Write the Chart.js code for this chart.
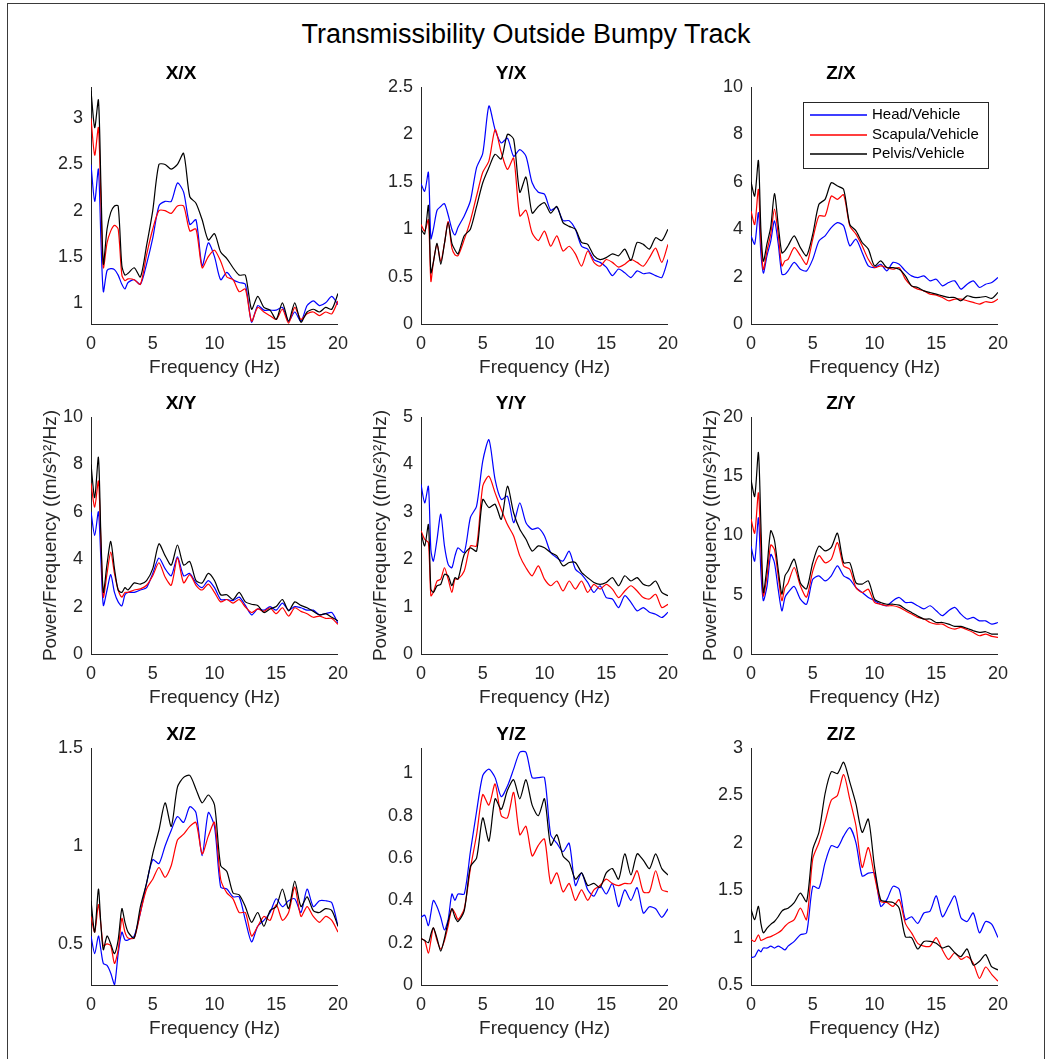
<!DOCTYPE html>
<html>
<head>
<meta charset="utf-8">
<title>Transmissibility Outside Bumpy Track</title>
<script src="https://cdn.jsdelivr.net/npm/chart.js@4.4.1/dist/chart.umd.min.js"></script>
<style>
  html, body { margin: 0; padding: 0; background: #fff; }
  #figure { position: relative; width: 1052px; height: 1059px; overflow: hidden; background: #fff; }
  #frame { position: absolute; left: 7px; top: 3px; width: 1036px; height: 1070px; border: 1px solid #3a3a3a; }
  #suptitle { position: absolute; left: 0; top: 19px; width: 1052px; text-align: center;
              font: 27px/30px "Liberation Sans", Arial, sans-serif; color: #000; }
  canvas { position: absolute; }
</style>
</head>
<body>
<div id="figure">
  <div id="frame"></div>
  <div id="suptitle">Transmissibility Outside Bumpy Track</div>
</div>
<script>
const FONT = '"Liberation Sans", Arial, sans-serif';
const AXIS = '#262626';

// frequency grid shared by every curve (Hz)
const freq = [0, 0.3, 0.6, 0.8, 1, 1.3, 1.6, 1.9, 2.2, 2.5, 2.75, 3, 3.5, 4, 4.5, 5, 5.5, 6, 6.5, 7, 7.5, 8, 8.5, 9, 9.5, 10,
  10.5, 11, 11.5, 12, 12.5, 13, 13.5, 14, 14.5, 15, 15.5, 16, 16.5, 17, 17.5, 18, 18.5, 19, 19.5, 20];
const xTicks = [0, 5, 10, 15, 20];

const seriesNames = ['Head/Vehicle', 'Scapula/Vehicle', 'Pelvis/Vehicle'];
const seriesColors = ['#0000ff', '#ff0000', '#000000'];

// X/X
const xxHead = [2.5, 2.1, 2.45, 1.7, 1.12, 1.35, 1.37, 1.36, 1.3, 1.2, 1.15, 1.22, 1.25, 1.2, 1.42, 1.7, 2.05, 2.1, 2.1, 2.3, 2.2, 1.85, 1.9, 1.4, 1.65, 1.5, 1.25, 1.33, 1.25, 1.22, 1.2, 0.79, 0.97, 0.92, 0.92, 0.92, 0.95, 0.8, 0.9, 0.8, 0.97, 1.02, 0.97, 1.0, 1.07, 0.98];
const xxScapula = [3.0, 2.6, 2.9, 2.1, 1.38, 1.65, 1.78, 1.84, 1.8, 1.3, 1.24, 1.26, 1.25, 1.2, 1.52, 1.8, 2.0, 2.0, 1.97, 2.05, 2.05, 1.78, 1.8, 1.38, 1.5, 1.57, 1.45, 1.28, 1.25, 1.12, 1.15, 0.8, 0.95, 0.9, 0.86, 0.82, 0.93, 0.78, 0.95, 0.82, 0.88, 0.9, 0.86, 0.9, 0.88, 1.02];
const xxPelvis = [3.3, 2.9, 3.2, 2.3, 1.42, 1.8, 1.98, 2.05, 2.05, 1.4, 1.3, 1.32, 1.38, 1.28, 1.62, 2.0, 2.5, 2.5, 2.45, 2.5, 2.62, 2.15, 2.08, 1.9, 1.68, 1.75, 1.55, 1.48, 1.38, 1.3, 1.3, 0.93, 1.07, 0.95, 0.92, 0.82, 1.0, 0.8, 1.0, 0.79, 0.9, 0.93, 0.9, 0.95, 0.93, 1.1];

// Y/X
const yxHead = [1.48, 1.4, 1.6, 0.9, 1.0, 1.2, 1.24, 1.27, 1.15, 1.0, 0.94, 1.02, 1.14, 1.3, 1.65, 1.8, 2.3, 2.05, 1.91, 1.96, 1.77, 1.84, 1.77, 1.49, 1.39, 1.37, 1.2, 1.23, 1.09, 1.09, 1.0, 0.82, 0.79, 0.68, 0.65, 0.6, 0.51, 0.58, 0.54, 0.49, 0.56, 0.53, 0.54, 0.51, 0.49, 0.68];
const yxScapula = [1.05, 0.98, 1.1, 0.45, 0.65, 0.84, 0.66, 0.85, 1.08, 0.8, 0.73, 0.72, 0.89, 1.09, 1.35, 1.6, 1.72, 2.05, 1.81, 1.63, 1.75, 1.14, 1.2, 0.96, 0.88, 0.98, 0.82, 0.93, 0.77, 0.82, 0.74, 0.61, 0.77, 0.65, 0.61, 0.68, 0.65, 0.6, 0.63, 0.68, 0.65, 0.61, 0.7, 0.8, 0.65, 0.84];
const yxPelvis = [1.0, 0.95, 1.25, 0.54, 0.65, 0.85, 0.63, 0.85, 1.07, 0.85, 0.78, 0.74, 0.93, 1.0, 1.24, 1.49, 1.65, 1.79, 1.74, 2.0, 1.95, 1.39, 1.55, 1.17, 1.24, 1.28, 1.17, 1.24, 1.07, 1.03, 1.0, 0.86, 0.84, 0.72, 0.68, 0.7, 0.74, 0.72, 0.79, 0.67, 0.86, 0.84, 0.79, 0.91, 0.88, 1.0];

// Z/X
const zxHead = [3.72, 3.37, 4.7, 3.0, 2.15, 2.9, 3.5, 4.35, 3.4, 2.1, 2.1, 2.24, 2.6, 2.31, 2.24, 2.73, 3.5, 3.72, 4.07, 4.28, 4.14, 3.3, 3.58, 3.02, 2.45, 2.38, 2.52, 2.24, 2.6, 2.52, 2.24, 2.03, 1.96, 2.03, 1.82, 1.89, 1.61, 1.75, 1.82, 1.47, 1.68, 1.82, 1.54, 1.68, 1.75, 1.96];
const zxScapula = [4.77, 4.2, 5.68, 3.5, 2.3, 3.1, 3.8, 4.85, 3.8, 2.45, 2.66, 2.73, 3.22, 2.88, 2.52, 3.58, 4.56, 4.56, 5.4, 5.26, 5.45, 4.14, 3.79, 3.3, 2.73, 2.38, 2.45, 2.38, 2.31, 2.38, 1.89, 1.61, 1.47, 1.4, 1.26, 1.22, 1.12, 0.98, 1.05, 1.05, 0.98, 0.91, 0.84, 0.94, 0.91, 1.05];
const zxPelvis = [6.0, 5.4, 6.9, 4.0, 2.65, 3.4, 4.1, 5.5, 4.2, 3.0, 3.1, 3.3, 3.72, 3.22, 2.88, 3.79, 5.05, 5.26, 5.96, 5.82, 5.68, 4.2, 3.93, 3.44, 3.16, 2.45, 2.66, 2.38, 2.38, 2.31, 2.03, 1.61, 1.54, 1.4, 1.33, 1.26, 1.19, 1.12, 1.12, 0.98, 1.19, 1.12, 1.12, 1.16, 1.08, 1.33];

// X/Y
const xyHead = [6.0, 5.0, 6.0, 4.0, 2.05, 2.7, 3.35, 2.6, 2.2, 2.03, 2.5, 2.6, 2.6, 2.7, 2.8, 3.4, 4.05, 3.6, 3.3, 4.1, 3.3, 3.4, 3.0, 2.8, 3.1, 2.8, 2.3, 2.3, 2.25, 2.4, 2.05, 1.65, 1.9, 1.85, 2.0, 1.85, 2.15, 1.85, 2.0, 1.95, 1.85, 1.85, 1.65, 1.7, 1.75, 1.3];
const xyScapula = [7.2, 6.2, 7.3, 4.8, 2.4, 3.4, 4.3, 3.4, 2.7, 2.4, 2.6, 2.6, 2.7, 2.75, 2.9, 3.3, 3.85, 3.25, 2.9, 4.05, 3.0, 3.35, 2.9, 2.7, 2.95, 2.6, 2.2, 2.3, 2.15, 2.3, 1.98, 1.75, 1.9, 1.8, 1.95, 1.7, 1.95, 1.6, 1.95, 1.8, 1.7, 1.55, 1.6, 1.5, 1.5, 1.25];
const xyPelvis = [8.0, 6.6, 8.3, 5.0, 2.6, 3.8, 4.75, 3.6, 2.7, 2.6, 2.8, 2.7, 3.0, 2.95, 3.1, 3.6, 4.65, 4.15, 3.75, 4.6, 3.75, 3.9, 3.1, 3.0, 3.4, 3.1, 2.5, 2.5, 2.3, 2.6, 2.2, 2.1, 2.05, 1.75, 1.9, 2.0, 2.3, 1.82, 2.2, 2.05, 1.95, 1.8, 1.65, 1.7, 1.55, 1.4];

// Y/Y
const yyHead = [3.58, 3.19, 3.54, 2.2, 1.96, 2.42, 2.95, 2.28, 1.89, 1.82, 2.07, 2.24, 2.14, 2.88, 3.12, 4.07, 4.52, 3.68, 3.26, 3.33, 2.77, 3.19, 2.77, 2.63, 2.66, 2.49, 2.14, 2.03, 1.96, 2.17, 1.79, 1.68, 1.51, 1.3, 1.44, 1.19, 1.16, 0.98, 1.23, 1.09, 0.91, 0.98, 0.88, 0.84, 0.77, 0.88];
const yyScapula = [2.6, 2.42, 2.35, 1.23, 1.3, 1.54, 1.58, 1.82, 1.58, 1.3, 1.58, 1.58, 1.75, 2.28, 2.28, 3.54, 3.75, 3.4, 3.05, 2.73, 2.49, 2.07, 1.82, 1.65, 1.86, 1.58, 1.44, 1.54, 1.33, 1.54, 1.37, 1.54, 1.3, 1.47, 1.37, 1.47, 1.37, 1.19, 1.33, 1.44, 1.33, 1.19, 1.16, 1.26, 0.98, 1.05];
const yyPelvis = [2.56, 2.28, 2.73, 1.37, 1.3, 1.44, 1.47, 1.68, 1.65, 1.44, 1.61, 1.58, 2.1, 2.24, 2.17, 3.26, 3.09, 3.16, 2.84, 3.54, 2.98, 2.63, 2.42, 2.17, 2.28, 2.24, 2.14, 2.07, 1.86, 1.93, 1.93, 1.72, 1.61, 1.51, 1.47, 1.51, 1.61, 1.44, 1.65, 1.54, 1.61, 1.47, 1.44, 1.54, 1.3, 1.23];

// Z/Y
const zyHead = [9.1, 7.85, 11.5, 7.0, 4.5, 5.75, 8.4, 7.7, 5.47, 3.65, 4.77, 5.19, 5.7, 4.63, 4.2, 6.3, 6.6, 6.17, 6.6, 7.43, 6.6, 6.3, 5.6, 5.19, 4.77, 4.5, 4.2, 4.07, 4.5, 4.77, 4.35, 4.35, 4.07, 3.8, 4.07, 3.65, 3.23, 3.65, 3.93, 3.37, 2.95, 3.09, 2.8, 2.8, 2.52, 2.66];
const zyScapula = [11.4, 10.2, 13.6, 9.0, 4.9, 6.6, 9.2, 8.8, 6.6, 4.5, 5.6, 6.0, 7.3, 5.75, 4.8, 7.0, 8.3, 7.7, 8.0, 9.4, 7.43, 7.15, 5.6, 5.19, 5.47, 4.35, 4.2, 4.07, 4.07, 3.93, 3.65, 3.37, 3.09, 2.95, 2.66, 2.52, 2.52, 2.24, 2.1, 2.24, 2.05, 1.82, 1.54, 1.68, 1.49, 1.4];
const zyPelvis = [14.7, 13.3, 17.0, 11.0, 5.2, 7.4, 10.4, 9.6, 7.15, 5.05, 6.6, 7.0, 8.0, 6.0, 5.5, 7.7, 9.1, 8.7, 9.0, 10.2, 7.7, 7.7, 6.0, 5.9, 6.17, 4.63, 4.35, 4.2, 4.2, 4.12, 3.8, 3.5, 3.2, 2.95, 2.95, 2.66, 2.66, 2.52, 2.33, 2.33, 2.16, 1.96, 1.82, 1.88, 1.68, 1.68];

// X/Z
const xzHead = [0.54, 0.45, 0.54, 0.47, 0.4, 0.39, 0.35, 0.29, 0.45, 0.56, 0.52, 0.52, 0.54, 0.66, 0.81, 0.93, 0.91, 1.0, 1.08, 1.15, 1.12, 1.2, 1.17, 0.95, 1.17, 1.1, 0.79, 0.78, 0.74, 0.74, 0.62, 0.51, 0.59, 0.62, 0.66, 0.73, 0.69, 0.72, 0.73, 0.66, 0.78, 0.69, 0.72, 0.72, 0.71, 0.59];
const xzScapula = [0.64, 0.56, 0.7, 0.6, 0.49, 0.5, 0.49, 0.4, 0.47, 0.63, 0.56, 0.53, 0.53, 0.66, 0.78, 0.83, 0.89, 0.84, 0.9, 1.03, 1.06, 1.1, 1.12, 0.96, 1.05, 1.12, 0.83, 0.76, 0.73, 0.66, 0.66, 0.54, 0.59, 0.64, 0.62, 0.7, 0.62, 0.66, 0.79, 0.64, 0.69, 0.64, 0.61, 0.64, 0.62, 0.56];
const xzPelvis = [0.72, 0.56, 0.78, 0.6, 0.47, 0.54, 0.5, 0.45, 0.52, 0.68, 0.61, 0.56, 0.53, 0.69, 0.81, 0.96, 1.08, 1.22, 1.1, 1.3, 1.35, 1.36, 1.29, 1.22, 1.26, 1.21, 0.9, 0.87, 0.76, 0.75, 0.69, 0.61, 0.66, 0.59, 0.67, 0.69, 0.78, 0.68, 0.82, 0.69, 0.74, 0.67, 0.66, 0.68, 0.67, 0.59];

// Y/Z
const yzHead = [0.32, 0.33, 0.28, 0.34, 0.4, 0.37, 0.32, 0.26, 0.31, 0.43, 0.4, 0.43, 0.43, 0.63, 0.82, 0.99, 1.02, 0.98, 0.89, 0.94, 1.02, 1.1, 1.1, 0.98, 0.98, 0.98, 0.71, 0.67, 0.63, 0.67, 0.47, 0.53, 0.45, 0.42, 0.47, 0.43, 0.48, 0.37, 0.45, 0.4, 0.46, 0.34, 0.37, 0.36, 0.32, 0.36];
const yzScapula = [0.22, 0.21, 0.15, 0.21, 0.27, 0.21, 0.17, 0.21, 0.28, 0.36, 0.34, 0.31, 0.36, 0.55, 0.71, 0.9, 0.85, 0.95, 0.8, 0.79, 0.91, 0.71, 0.75, 0.61, 0.66, 0.69, 0.48, 0.53, 0.44, 0.48, 0.4, 0.45, 0.4, 0.45, 0.47, 0.5, 0.48, 0.47, 0.48, 0.48, 0.54, 0.44, 0.44, 0.54, 0.45, 0.44];
const yzPelvis = [0.22, 0.21, 0.2, 0.24, 0.27, 0.22, 0.16, 0.22, 0.3, 0.36, 0.32, 0.3, 0.35, 0.56, 0.6, 0.79, 0.68, 0.88, 0.83, 0.92, 0.97, 0.88, 0.97, 0.85, 0.8, 0.88, 0.66, 0.71, 0.61, 0.58, 0.5, 0.53, 0.47, 0.48, 0.46, 0.53, 0.55, 0.5, 0.62, 0.52, 0.62, 0.59, 0.55, 0.62, 0.55, 0.52];

// Z/Z
const zzHead = [0.79, 0.8, 0.87, 0.85, 0.89, 0.89, 0.91, 0.89, 0.91, 0.89, 0.87, 0.91, 0.96, 1.03, 1.05, 1.54, 1.52, 1.79, 1.97, 1.95, 2.07, 2.16, 2.0, 1.65, 1.68, 1.68, 1.33, 1.4, 1.54, 1.51, 1.19, 1.22, 1.15, 1.26, 1.28, 1.44, 1.22, 1.33, 1.44, 1.21, 1.17, 1.26, 1.05, 1.17, 1.14, 1.0];
const zzScapula = [0.98, 0.96, 1.03, 0.97, 0.98, 1.0, 1.01, 1.03, 1.05, 1.08, 1.12, 1.15, 1.19, 1.31, 1.19, 1.83, 2.0, 2.22, 2.45, 2.5, 2.72, 2.46, 2.18, 1.74, 1.95, 1.65, 1.38, 1.37, 1.33, 1.4, 1.15, 1.05, 0.94, 0.91, 0.91, 1.0, 0.87, 0.77, 0.84, 0.77, 0.8, 0.73, 0.57, 0.69, 0.61, 0.54];
const zzPelvis = [1.3, 1.19, 1.33, 1.15, 1.05, 1.1, 1.14, 1.17, 1.22, 1.28, 1.3, 1.31, 1.37, 1.47, 1.38, 1.93, 2.11, 2.52, 2.75, 2.73, 2.85, 2.64, 2.41, 2.11, 2.25, 1.75, 1.4, 1.38, 1.37, 1.31, 1.01, 1.0, 0.88, 0.96, 0.96, 0.94, 0.89, 0.91, 0.84, 0.8, 0.88, 0.71, 0.75, 0.82, 0.69, 0.66];

// one entry per subplot, row by row
const panels = [
  { title: 'X/X', series: [xxHead, xxScapula, xxPelvis], yMin: 0.77, yMax: 3.34, yTicks: [1, 1.5, 2, 2.5, 3] },
  { title: 'Y/X', series: [yxHead, yxScapula, yxPelvis], yMin: 0, yMax: 2.5, yTicks: [0, 0.5, 1, 1.5, 2, 2.5] },
  { title: 'Z/X', series: [zxHead, zxScapula, zxPelvis], yMin: 0, yMax: 10, yTicks: [0, 2, 4, 6, 8, 10], legend: true },
  { title: 'X/Y', series: [xyHead, xyScapula, xyPelvis], yMin: 0, yMax: 10, yTicks: [0, 2, 4, 6, 8, 10] },
  { title: 'Y/Y', series: [yyHead, yyScapula, yyPelvis], yMin: 0, yMax: 5, yTicks: [0, 1, 2, 3, 4, 5] },
  { title: 'Z/Y', series: [zyHead, zyScapula, zyPelvis], yMin: 0, yMax: 20, yTicks: [0, 5, 10, 15, 20] },
  { title: 'X/Z', series: [xzHead, xzScapula, xzPelvis], yMin: 0.29, yMax: 1.5, yTicks: [0.5, 1, 1.5] },
  { title: 'Y/Z', series: [yzHead, yzScapula, yzPelvis], yMin: 0, yMax: 1.12, yTicks: [0, 0.2, 0.4, 0.6, 0.8, 1] },
  { title: 'Z/Z', series: [zzHead, zzScapula, zzPelvis], yMin: 0.5, yMax: 3, yTicks: [0.5, 1, 1.5, 2, 2.5, 3] }
];

// subplot grid: plot-area corners and the room kept around each plot for text
const colLeft = [91, 421, 751];
const rowTop = [87, 417, 748];
const plotW = 250, plotH = 237;
const padL = 70, padT = 36, padR = 16, padB = 60;

// boxed legend drawn inside the plot area (top right)
const boxLegend = {
  id: 'boxLegend',
  afterDatasetsDraw(chart) {
    const { ctx, chartArea } = chart;
    const x = chartArea.left + 52, y = chartArea.top + 15, w = 185, h = 66;
    ctx.save();
    ctx.fillStyle = '#fff';
    ctx.fillRect(x, y, w, h);
    ctx.lineWidth = 1;
    ctx.strokeStyle = AXIS;
    ctx.strokeRect(x + 0.5, y + 0.5, w, h);
    ctx.font = '15px ' + FONT;
    ctx.textBaseline = 'middle';
    ctx.textAlign = 'left';
    for (let i = 0; i < seriesNames.length; i++) {
      const cy = Math.round(y + 13 + i * 19.7);
      ctx.fillStyle = seriesColors[i];
      ctx.fillRect(x + 7, cy - 0.75, 57, 1.5);
      ctx.fillStyle = '#000';
      ctx.fillText(seriesNames[i], x + 69, cy);
    }
    ctx.restore();
  }
};

const figure = document.getElementById('figure');

panels.forEach((p, i) => {
  const row = Math.floor(i / 3), col = i % 3;
  const canvas = document.createElement('canvas');
  canvas.width = padL + plotW + padR;
  canvas.height = padT + plotH + padB;
  canvas.style.left = (colLeft[col] - padL) + 'px';
  canvas.style.top = (rowTop[row] - padT) + 'px';
  figure.appendChild(canvas);

  new Chart(canvas, {
    type: 'line',
    data: {
      datasets: p.series.map((vals, k) => ({
        label: seriesNames[k],
        data: freq.map((f, j) => ({ x: f, y: vals[j] })),
        borderColor: seriesColors[k],
        borderWidth: 1.2,
        pointRadius: 0,
        tension: 0.25,
        fill: false,
        order: 3 - k   // pelvis drawn last, on top
      }))
    },
    options: {
      responsive: false,
      animation: false,
      devicePixelRatio: 1,
      events: [],
      layout: { padding: { top: 0, right: padR, bottom: 0, left: 0 } },
      plugins: {
        legend: { display: false },
        tooltip: { enabled: false },
        title: {
          display: true,
          text: p.title,
          color: '#000',
          font: { family: FONT, size: 19, weight: 'bold', lineHeight: 1.2 },
          padding: { top: 11.2, bottom: 2 }
        }
      },
      scales: {
        x: {
          type: 'linear',
          min: 0,
          max: 20,
          afterBuildTicks: axis => { axis.ticks = xTicks.map(v => ({ value: v })); },
          afterFit: axis => { axis.height = padB; },
          grid: { display: false, drawTicks: false },
          border: { display: true, color: AXIS, width: 1 },
          ticks: { color: AXIS, font: { family: FONT, size: 18 }, padding: 9, maxRotation: 0, autoSkip: false,
                   callback: v => String(v) },
          title: { display: true, text: 'Frequency (Hz)', color: AXIS,
                   font: { family: FONT, size: 19, lineHeight: 1.2 }, padding: { top: 0, bottom: 5 } }
        },
        y: {
          type: 'linear',
          min: p.yMin,
          max: p.yMax,
          afterBuildTicks: axis => { axis.ticks = p.yTicks.map(v => ({ value: v })); },
          afterFit: axis => { axis.width = padL; },
          grid: { display: false, drawTicks: false },
          border: { display: true, color: AXIS, width: 1 },
          ticks: { color: AXIS, font: { family: FONT, size: 18 }, padding: 8, autoSkip: false,
                   callback: v => String(v) },
          title: { display: row === 1, text: 'Power/Frequency ((m/s²)²/Hz)', color: AXIS,
                   font: { family: FONT, size: 19, lineHeight: 1.2 }, padding: { top: 18, bottom: 0 } }
        }
      }
    },
    plugins: p.legend ? [boxLegend] : []
  });
});
</script>
</body>
</html>
